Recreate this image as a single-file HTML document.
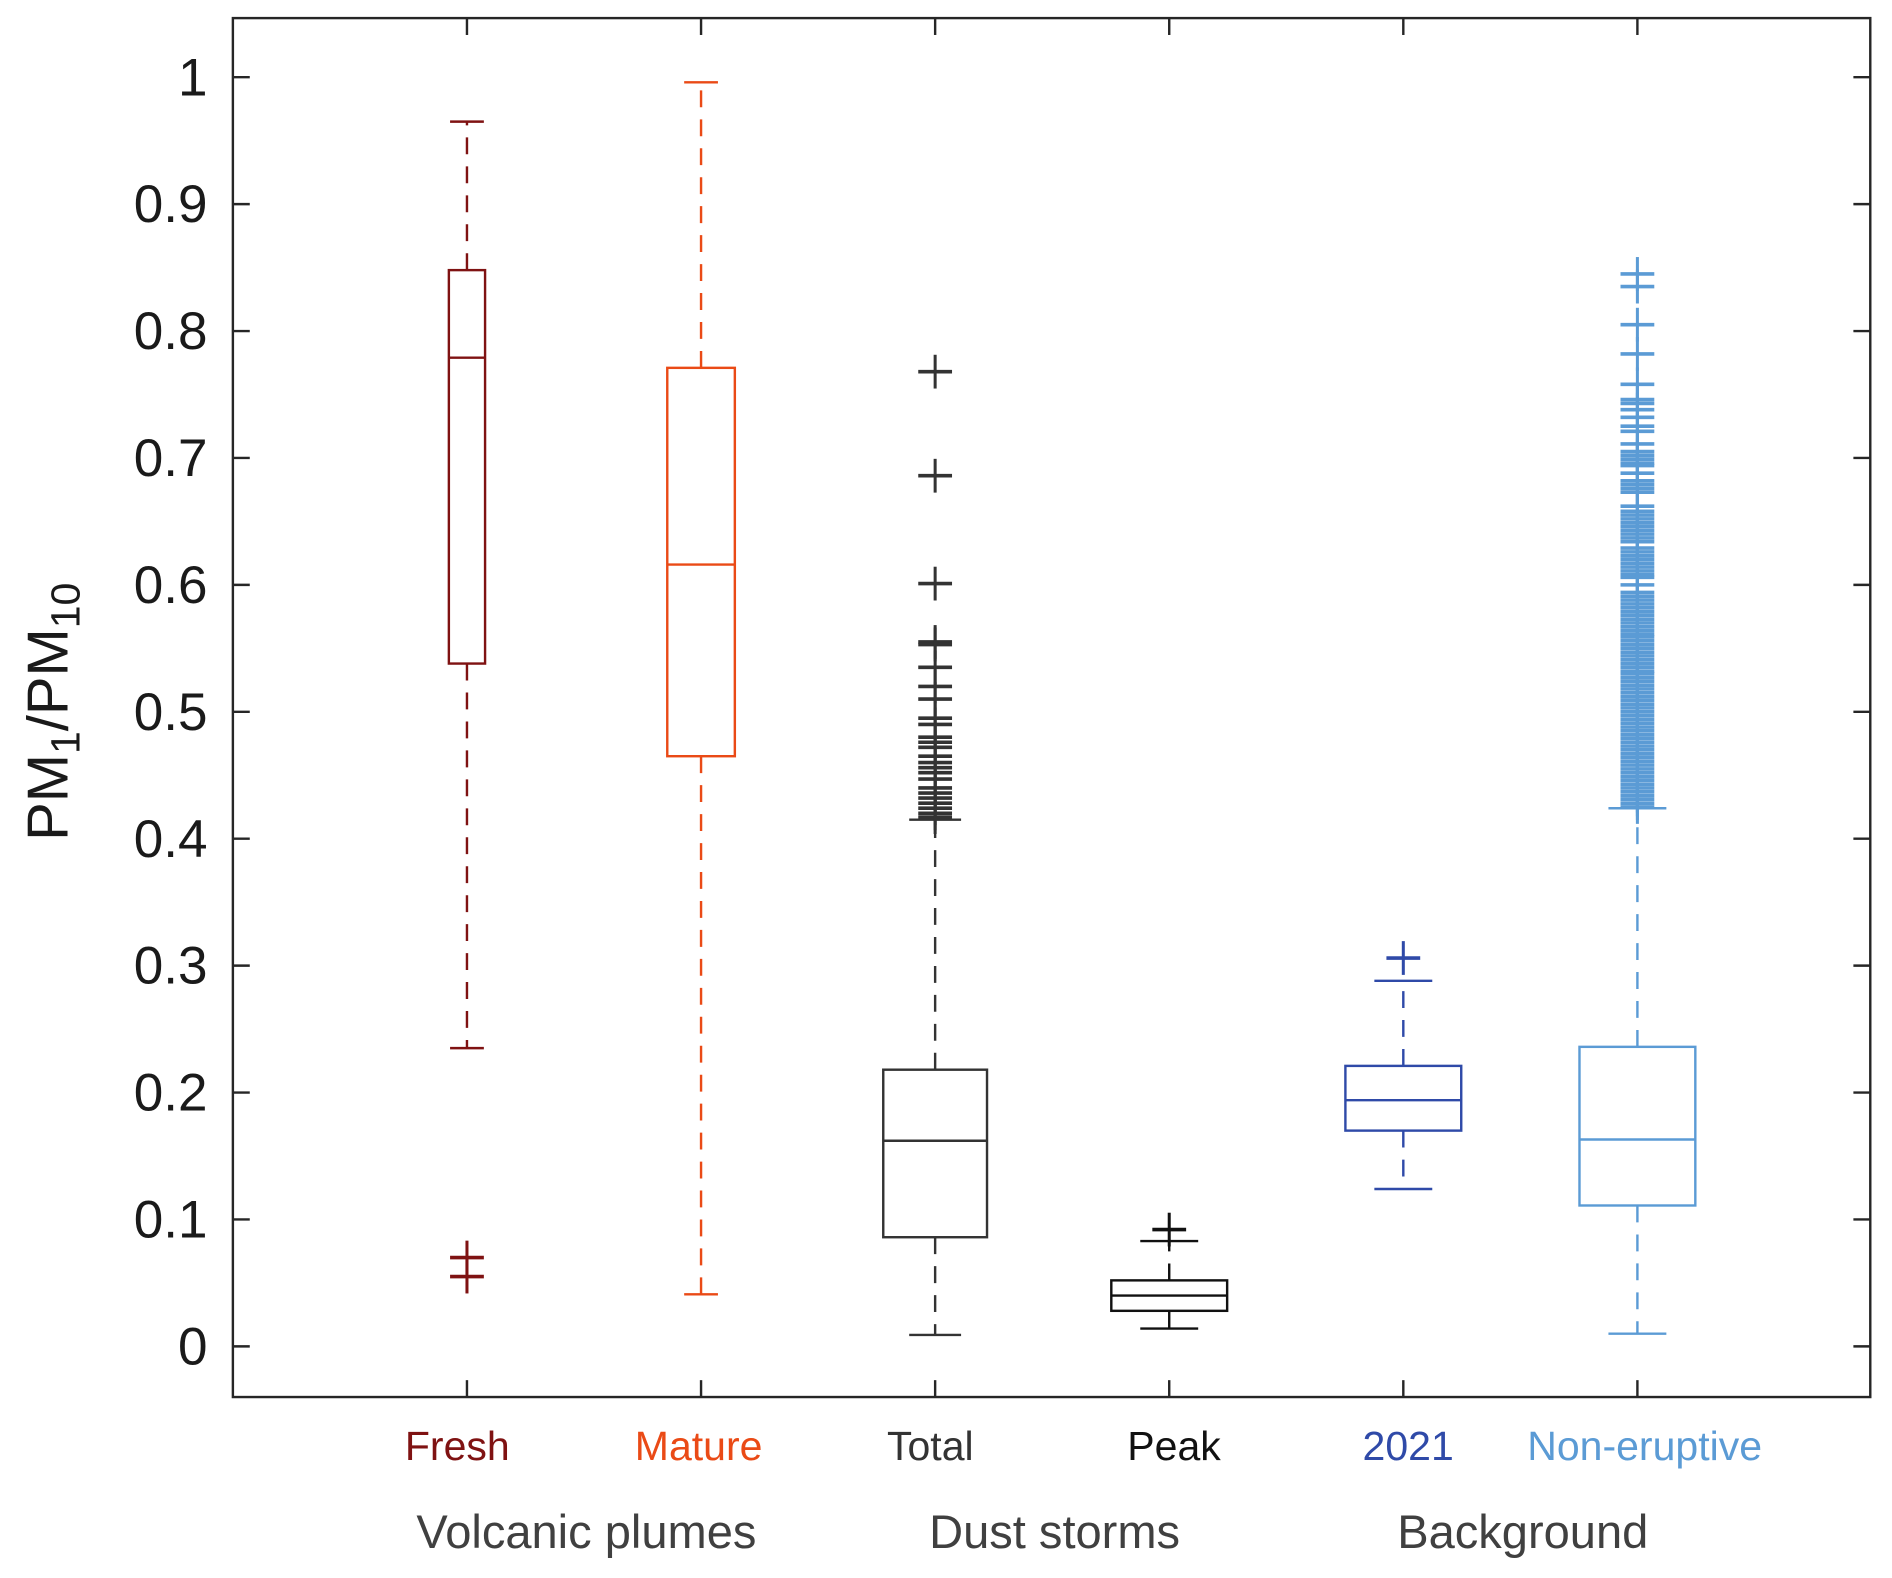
<!DOCTYPE html>
<html><head><meta charset="utf-8"><style>
html,body{margin:0;padding:0;background:#fff;}
svg{display:block;}
text{font-family:"Liberation Sans",Arial,sans-serif;}
</style></head><body>
<svg id="chart" width="1892" height="1578" viewBox="0 0 1568 1308" preserveAspectRatio="none" xmlns="http://www.w3.org/2000/svg"></svg>
<script>
const categories = ["Fresh","Mature","Total","Peak","2021","Non-eruptive"];
const groups = ["Volcanic plumes","Dust storms","Background"];
const groupCenters = [1.5,3.5,5.5];
const yTicks = [0,0.1,0.2,0.3,0.4,0.5,0.6,0.7,0.8,0.9,1];
const yTickLabels = ["0","0.1","0.2","0.3","0.4","0.5","0.6","0.7","0.8","0.9","1"];
const whiskerLow = [0.235,0.041,0.009,0.014,0.124,0.010];
const q1 = [0.538,0.465,0.086,0.028,0.170,0.111];
const median = [0.779,0.616,0.162,0.040,0.194,0.163];
const q3 = [0.848,0.771,0.218,0.052,0.221,0.236];
const whiskerHigh = [0.965,0.996,0.415,0.083,0.288,0.424];
const outFresh = [0.070,0.055];
const outMature = [];
const outTotal = [0.768,0.686,0.601,0.555,0.553,0.535,0.520,0.510,0.495,0.490,0.480,0.476,0.472,0.465,0.460,0.456,0.452,0.447,0.440,0.436,0.432,0.428,0.424,0.420,0.417];
const outPeak = [0.092];
const out2021 = [0.306];
const outNonEruptive = [0.845,0.835,0.805,0.782,0.758,0.746,0.743,0.738,0.732,0.725,0.721,0.711,0.705,0.702,0.699,0.696,0.694,0.688,0.682,0.679,0.676,0.673,0.662,0.658,0.655,0.652,0.649,0.646,0.643,0.640,0.637,0.634,0.629,0.626,0.623,0.620,0.617,0.614,0.611,0.608,0.606,0.600,0.594,0.591,0.588,0.585,0.582,0.579,0.576,0.573,0.570,0.567,0.564,0.561,0.559,0.556,0.553,0.550,0.547,0.544,0.541,0.538,0.535,0.532,0.530,0.527,0.524,0.521,0.518,0.515,0.512,0.509,0.506,0.503,0.500,0.497,0.494,0.491,0.488,0.485,0.482,0.479,0.476,0.473,0.470,0.467,0.464,0.461,0.458,0.455,0.452,0.449,0.446,0.443,0.440,0.437,0.434,0.431,0.428,0.425];
const outliers = [outFresh,outMature,outTotal,outPeak,out2021,outNonEruptive];
const colors = ["#7f1212","#ea4a16","#333333","#111111","#2f4aa8","#5b9bd5"];
const boxHalf = [15,28,43,48,48,48];
const labelShift = [-8,-2,-4,4,4,6];

const L=193,R=1550,T=15,B=1158;
const X = v => L + v*194;
const Y = v => 1116 - v*1052;
const svg = document.getElementById('chart');
const NS='http://www.w3.org/2000/svg';
function mk(tag, attrs, parent){const e=document.createElementNS(NS,tag);for(const k in attrs)e.setAttribute(k,attrs[k]);(parent||svg).appendChild(e);return e;}

const ax = mk('rect',{x:L,y:T,width:R-L,height:B-T,fill:'none',stroke:'#262626','stroke-width':2});



yTicks.forEach((t,i)=>{
  const g=mk('g',{});
  
  
  mk('line',{x1:L,x2:L+14,y1:Y(t),y2:Y(t),stroke:'#262626','stroke-width':2},g);
  mk('line',{x1:R-14,x2:R,y1:Y(t),y2:Y(t),stroke:'#262626','stroke-width':2},g);
  const tx=mk('text',{x:L-21,y:Y(t)+15,'text-anchor':'end','font-size':44,fill:'#1a1a1a'},g);
  tx.textContent=yTickLabels[i];
});

categories.forEach((c,i)=>{
  const x=X(i+1);
  const g=mk('g',{});
  
  
  mk('line',{x1:x,x2:x,y1:T,y2:T+14,stroke:'#262626','stroke-width':2},g);
  mk('line',{x1:x,x2:x,y1:B-14,y2:B,stroke:'#262626','stroke-width':2},g);
  const tx=mk('text',{x:x+labelShift[i],y:1210,'text-anchor':'middle','font-size':34,fill:colors[i]},g);
  tx.textContent=c;
});
groups.forEach((gname,i)=>{
  const tx=mk('text',{x:X(groupCenters[i])+2,y:1283,'text-anchor':'middle','font-size':39,fill:'#404040'});
  
  
  tx.textContent=gname;
});

const yl=mk('text',{x:0,y:0,'text-anchor':'middle','font-size':48,fill:'#1a1a1a',transform:'translate(56,590) rotate(-90)'});


yl.innerHTML='PM<tspan font-size="34" dy="10">1</tspan><tspan dy="-10">/PM</tspan><tspan font-size="34" dy="10">10</tspan>';

categories.forEach((c,i)=>{
  const x=X(i+1), col=colors[i], h=boxHalf[i], cap=Math.max(14,h/2);
  const g=mk('g',{});
  
  
  const sw=2;
  mk('line',{x1:x,x2:x,y1:Y(q3[i]),y2:Y(whiskerHigh[i]),stroke:col,'stroke-width':sw,'stroke-dasharray':'14 10'},g);
  mk('line',{x1:x,x2:x,y1:Y(q1[i]),y2:Y(whiskerLow[i]),stroke:col,'stroke-width':sw,'stroke-dasharray':'14 10'},g);
  mk('line',{x1:x-cap,x2:x+cap,y1:Y(whiskerHigh[i]),y2:Y(whiskerHigh[i]),stroke:col,'stroke-width':sw},g);
  mk('line',{x1:x-cap,x2:x+cap,y1:Y(whiskerLow[i]),y2:Y(whiskerLow[i]),stroke:col,'stroke-width':sw},g);
  mk('rect',{x:x-h,y:Y(q3[i]),width:2*h,height:Y(q1[i])-Y(q3[i]),fill:'none',stroke:col,'stroke-width':sw},g);
  mk('line',{x1:x-h,x2:x+h,y1:Y(median[i]),y2:Y(median[i]),stroke:col,'stroke-width':sw},g);
  outliers[i].forEach(v=>{
    const y=Y(v);
    mk('line',{x1:x-14,x2:x+14,y1:y,y2:y,stroke:col,'stroke-width':3},g);
    mk('line',{x1:x,x2:x,y1:y-14,y2:y+14,stroke:col,'stroke-width':2.5},g);
  });
});
</script>
</body></html>
